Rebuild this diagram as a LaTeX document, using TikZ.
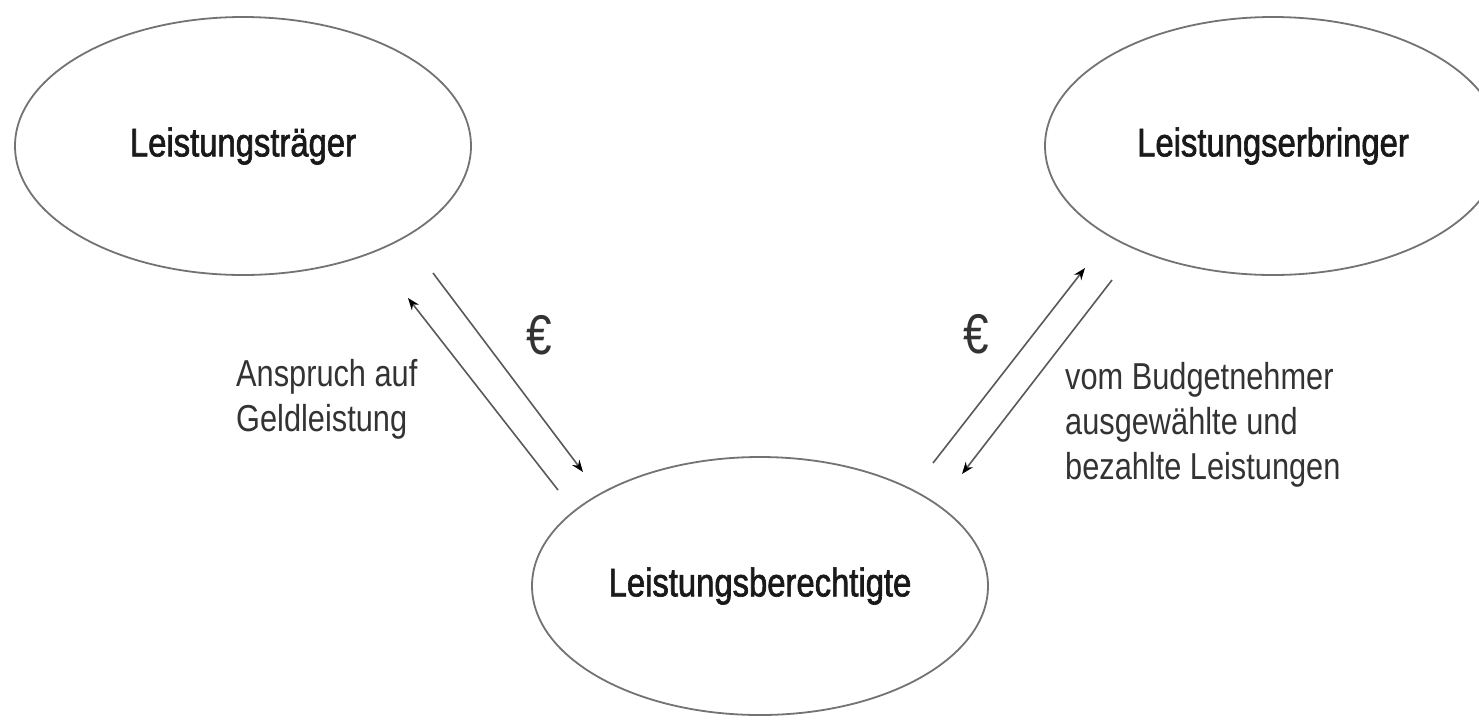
\documentclass[tikz,border=0pt]{standalone}
\usepackage{fontspec}
\setmainfont[FakeStretch=0.82]{Liberation Sans}
\newfontfamily\heavyfont[FakeStretch=0.82,FakeBold=1.6]{Liberation Sans}
\usetikzlibrary{shapes.geometric,arrows.meta}
\tikzset{
  party/.style={ellipse,draw=black!55,line width=1.8pt,minimum width=456pt,minimum height=258pt,inner sep=0pt,
    font=\heavyfont\fontsize{40}{48}\selectfont,text=black!90},
  flow/.style={draw=black!65,line width=1.6pt,-{Stealth[length=12pt,width=9pt,color=black]}},
  lbl/.style={inner sep=0pt,align=left,text=black!80,font=\fontsize{37.5}{45}\selectfont},
  euro/.style={inner sep=0pt,font=\fontsize{56}{56}\selectfont,text=black!80}
}
\begin{document}
\begin{tikzpicture}[x=1pt,y=-1pt]
\clip (0,0) rectangle (1479,721);
\fill[white] (0,0) rectangle (1479,721);
\node[party] (T) at (243,146) {Leistungsträger};
\node[party] (E) at (1273,146) {Leistungserbringer};
\node[party] (B) at (760,586) {Leistungsberechtigte};
% connector ends
\coordinate (a1) at (558,490); \coordinate (a2) at (408,298);
\coordinate (b1) at (433,273); \coordinate (b2) at (583,472);
\coordinate (c1) at (933,463); \coordinate (c2) at (1085,268);
\coordinate (d1) at (1112,280); \coordinate (d2) at (962,474);
\draw[flow] (a1) -- (a2);
\draw[flow] (b1) -- (b2);
\draw[flow] (c1) -- (c2);
\draw[flow] (d1) -- (d2);
\node[euro] (e1) at (539,335) {€};
\node[euro] (e2) at (976,334) {€};
\node[lbl,anchor=north west] (l1) at (236,359) {Anspruch auf\\Geldleistung};
\node[lbl,anchor=north west] (l2) at (1065,362) {vom Budgetnehmer\\ausgewählte und\\bezahlte Leistungen};
\end{tikzpicture}
\end{document}
